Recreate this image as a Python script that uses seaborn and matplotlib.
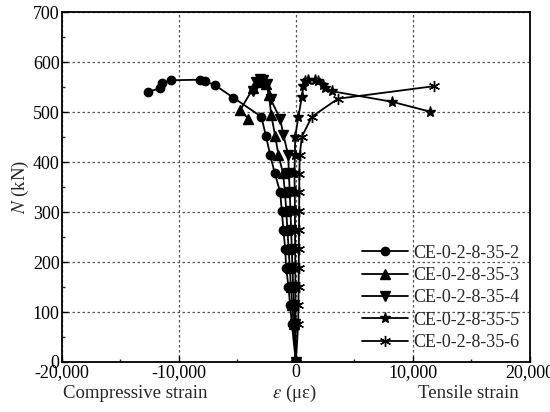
import numpy as np
import pandas as pd
import matplotlib
matplotlib.use("Agg")
import matplotlib.pyplot as plt
import seaborn as sns
from matplotlib.ticker import MultipleLocator, FuncFormatter

# ---- data (strain in micro-strain, load in kN) ----
labels = ["CE-0-2-8-35-2", "CE-0-2-8-35-3", "CE-0-2-8-35-4", "CE-0-2-8-35-5", "CE-0-2-8-35-6"]

s2_x = [0, -340, -490, -630, -830, -910, -1060, -1200, -1340, -1800, -2200, -2560, -2950,
        -5330, -6900, -7740, -8170, -10680, -11450, -11600, -12600]
s2_y = [0, 76, 114, 151, 189, 227, 264, 302, 340, 378, 415, 453, 491,
        529, 554, 562, 565, 564, 558, 548, 541]

s3_x = [0, -200, -310, -420, -520, -620, -720, -820, -930, -1100, -1490, -1770, -2100,
        -2300, -2550, -2800, -3050, -3300, -3650, -4760, -4050]
s3_y = [0, 76, 114, 151, 189, 227, 264, 302, 340, 378, 415, 453, 494,
        535, 556, 563, 566, 560, 548, 504, 487]

s4_x = [0, -100, -160, -230, -290, -350, -400, -460, -520, -600, -650, -1060, -1340,
        -2150, -2500, -2800, -3100, -3400, -3650]
s4_y = [0, 76, 114, 151, 189, 227, 264, 302, 340, 378, 414, 454, 487,
        526, 556, 564, 566, 560, 542]

s5_x = [0, -20, -30, -40, -50, -60, -70, -80, -90, -120, -80, -60, 220,
        510, 650, 790, 1080, 1650, 1930, 2360, 2500, 3080, 8200, 11480]
s5_y = [0, 76, 114, 151, 189, 227, 264, 302, 340, 378, 414, 451, 491,
        531, 552, 562, 565, 565, 562, 555, 549, 542, 521, 501]

s6_x = [0, 200, 220, 240, 250, 260, 270, 280, 290, 300, 330, 510, 1370, 3590, 11760]
s6_y = [0, 76, 114, 151, 189, 227, 264, 302, 340, 377, 414, 451, 491, 527, 552]

xs = [s2_x, s3_x, s4_x, s5_x, s6_x]
ys = [s2_y, s3_y, s4_y, s5_y, s6_y]
markers = ["o", "^", "v", "*", (6, 2, 0)]
msizes = [6, 6.5, 6.5, 8, 8]

x_ticks = [-20000, -10000, 0, 10000, 20000]
y_ticks = [0, 100, 200, 300, 400, 500, 600, 700]

sns.set_theme(style="ticks")
plt.rcParams["font.family"] = ["Liberation Serif", "DejaVu Serif"]
plt.rcParams["mathtext.fontset"] = "stix"

fig = plt.figure(figsize=(5.5, 4.12), dpi=100)
ax = fig.add_axes([61.7 / 550, 1 - 362 / 412, (530 - 61.7) / 550, (362 - 12.3) / 412])

for lab, x, y, m, ms in zip(labels, xs, ys, markers, msizes):
    df = pd.DataFrame({"x": x, "y": y})
    sns.lineplot(data=df, x="x", y="y", ax=ax, sort=False, estimator=None,
                 color="black", lw=1.3, marker=m, markersize=ms,
                 markeredgecolor="black", markerfacecolor="black",
                 markeredgewidth=1.0, label=lab)

ax.set_xlim(-20000, 20000)
ax.set_ylim(0, 700)
ax.set_xticks(x_ticks)
ax.set_yticks(y_ticks)
ax.xaxis.set_minor_locator(MultipleLocator(5000))
ax.yaxis.set_minor_locator(MultipleLocator(50))
ax.xaxis.set_major_formatter(FuncFormatter(lambda v, p: f"{int(v):,}"))
ax.tick_params(axis="both", which="major", direction="in", length=4, width=1,
               labelsize=13, colors="black", pad=1.5)
ax.tick_params(axis="both", which="minor", direction="in", length=2.5, width=1)
for sp in ax.spines.values():
    sp.set_color("black")
    sp.set_linewidth(1.3)

ax.grid(True, which="major", linestyle=(0, (2, 2)), color="#555555", lw=0.9)
ax.set_axisbelow(True)

ax.set_ylabel(r"$N$ (kN)", fontsize=13.5, labelpad=1)
ax.set_xlabel("")
ty = -0.09
ax.text(0.497, ty, r"$\varepsilon$ (με)", transform=ax.transAxes,
        ha="center", va="center", fontsize=13.5)
ax.text(0.002, ty, "Compressive strain", transform=ax.transAxes,
        ha="left", va="center", fontsize=13.5)
ax.text(0.975, ty, "Tensile strain", transform=ax.transAxes,
        ha="right", va="center", fontsize=13.5)

leg = ax.legend(loc="lower right", frameon=False, fontsize=13, handlelength=2.5,
                labelspacing=0.3, handletextpad=0.3, borderaxespad=0.2,
                bbox_to_anchor=(1.0, 0.0))

fig.savefig("out.png", dpi=100)
